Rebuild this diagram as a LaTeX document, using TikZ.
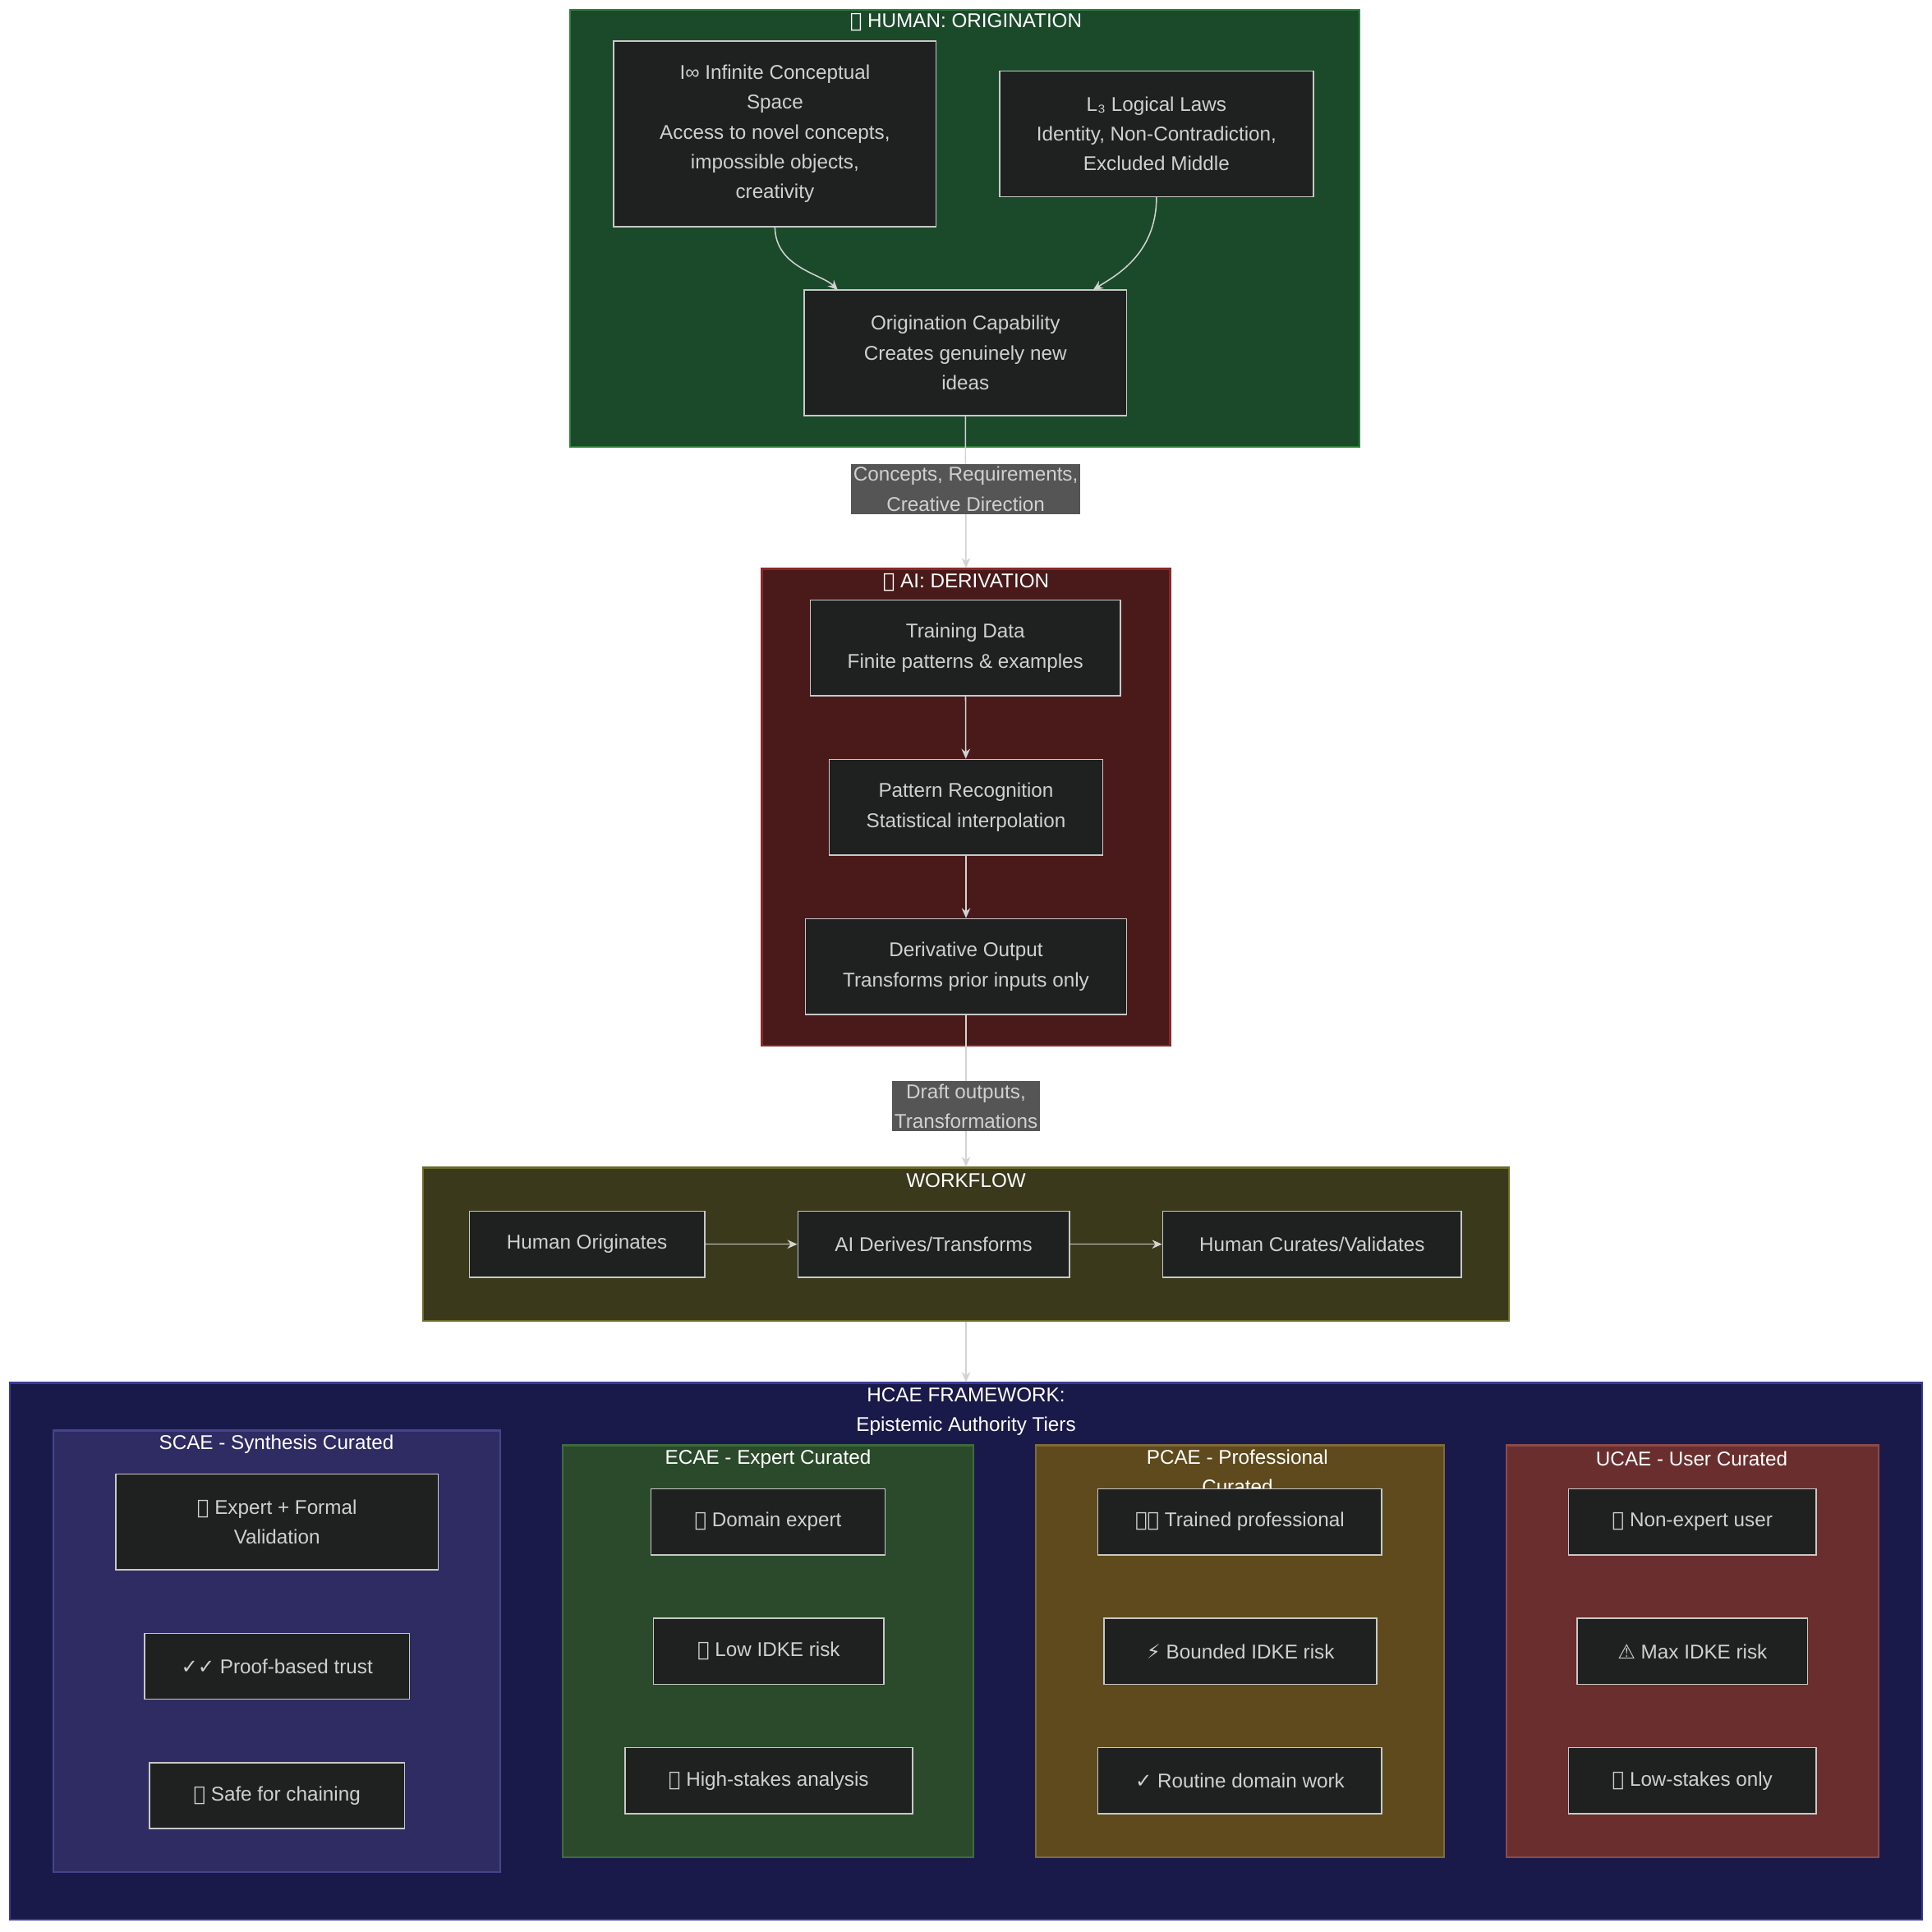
\documentclass[tikz,border=0pt]{standalone}
\usepackage{fontspec}
\setmainfont{Liberation Sans}
\newfontfamily\sym{DejaVu Sans}
\usetikzlibrary{arrows.meta}
\definecolor{ntxt}{HTML}{D0D0D0}
\definecolor{nfill}{HTML}{1F2020}
\definecolor{nline}{HTML}{C8C8C8}
\definecolor{hbg}{HTML}{1B4A2B}\definecolor{hbd}{HTML}{2E7D3A}
\definecolor{abg}{HTML}{4A1A1A}\definecolor{abd}{HTML}{8B2828}
\definecolor{wbg}{HTML}{3A391C}\definecolor{wbd}{HTML}{6B6B2A}
\definecolor{fbg}{HTML}{1A1A4A}\definecolor{fbd}{HTML}{3A3A9A}
\definecolor{sbg}{HTML}{2E2C63}\definecolor{sbd}{HTML}{45448A}
\definecolor{ebg}{HTML}{2B4A2B}\definecolor{ebd}{HTML}{3E6A3E}
\definecolor{pbg}{HTML}{5E4A1C}\definecolor{pbd}{HTML}{7E6A3A}
\definecolor{ubg}{HTML}{6B2E2E}\definecolor{ubd}{HTML}{8B4A4A}
\definecolor{lbl}{HTML}{555555}
\definecolor{edge}{HTML}{D3D3D3}
\newcommand\bx[6]{\node[#6, minimum width={(#4-#2)*0.5pt}, minimum height={(#5-#3)*0.5pt}] (#1) at ({(#2+#4)/2},{(#3+#5)/2})}
\tikzset{
 box/.style={draw=nline, fill=nfill, text=ntxt, align=center, inner sep=0pt, line width=0.5pt},
 clus/.style={draw=#1, line width=0.8pt, inner sep=0pt},
 ttl/.style={text=white, align=center, inner sep=0pt},
 lab/.style={fill=lbl, text=ntxt, align=center, inner sep=1pt},
 conn/.style={draw=edge, line width=0.5pt, -{Stealth[length=4pt,width=3.5pt]}},
}
\begin{document}
\begin{tikzpicture}[x=0.5pt,y=-0.5pt,font=\fontsize{8}{12}\selectfont]
\useasboundingbox (0,0) rectangle (1552,1552);
\fill[white] (0,0) rectangle (1552,1552);
% clusters
\bx{human}{458}{8}{1092}{359}{clus=hbd, fill=hbg}{};
\node[ttl] (humant) at (776,18) {{\sym 🧠} HUMAN: ORIGINATION};
\bx{ai}{612}{457}{940}{840}{clus=abd, fill=abg}{};
\node[ttl] (ait) at (776,468) {{\sym 🤖} AI: DERIVATION};
\bx{wf}{340}{938}{1212}{1061}{clus=wbd, fill=wbg}{};
\node[ttl] (wft) at (776,948) {WORKFLOW};
\bx{hc}{8}{1111}{1544}{1542}{clus=fbd, fill=fbg}{};
\node[ttl] (hct) at (776,1134) {HCAE FRAMEWORK:\\Epistemic Authority Tiers};
\bx{sc}{43}{1149}{402}{1504}{clus=sbd, fill=sbg}{};
\node[ttl] (sct) at (222,1160) {SCAE - Synthesis Curated};
\bx{ec}{452}{1161}{782}{1492}{clus=ebd, fill=ebg}{};
\node[ttl] (ect) at (617,1172) {ECAE - Expert Curated};
\bx{pc}{832}{1161}{1160}{1492}{clus=pbd, fill=pbg}{};
\node[ttl,anchor=north] (pct) at (994,1164) {PCAE - Professional\\Curated};
\bx{uc}{1210}{1161}{1509}{1492}{clus=ubd, fill=ubg}{};
\node[ttl] (uct) at (1359,1172) {UCAE - User Curated};
% human nodes
\bx{inf}{493}{33}{752}{182}{box}{I∞ Infinite Conceptual\\Space\\Access to novel concepts,\\impossible objects,\\creativity};
\bx{log}{803}{57}{1055}{158}{box}{L₃ Logical Laws\\Identity, Non-Contradiction,\\Excluded Middle};
\bx{orig}{646}{233}{905}{334}{box}{Origination Capability\\Creates genuinely new\\ideas};
% ai nodes
\bx{train}{651}{482}{900}{559}{box}{Training Data\\Finite patterns \& examples};
\bx{patt}{666}{610}{886}{687}{box}{Pattern Recognition\\Statistical interpolation};
\bx{deriv}{647}{738}{905}{815}{box}{Derivative Output\\Transforms prior inputs only};
% workflow
\bx{w1}{377}{973}{566}{1026}{box}{Human Originates};
\bx{w2}{641}{973}{859}{1026}{box}{AI Derives/Transforms};
\bx{w3}{934}{973}{1174}{1026}{box}{Human Curates/Validates};
% tiers
\bx{s1}{93}{1184}{352}{1261}{box}{{\sym 🔒} Expert + Formal\\Validation};
\bx{s2}{116}{1312}{329}{1365}{box}{{\sym ✓✓} Proof-based trust};
\bx{s3}{120}{1416}{325}{1469}{box}{{\sym 🔗} Safe for chaining};
\bx{e1}{523}{1196}{711}{1249}{box}{{\sym 🎓} Domain expert};
\bx{e2}{525}{1300}{710}{1353}{box}{{\sym ✅} Low IDKE risk};
\bx{e3}{502}{1404}{733}{1457}{box}{{\sym 🔬} High-stakes analysis};
\bx{p1}{882}{1196}{1110}{1249}{box}{{\sym 🧑‍💼} Trained professional};
\bx{p2}{887}{1300}{1106}{1353}{box}{{\sym ⚡} Bounded IDKE risk};
\bx{p3}{882}{1404}{1110}{1457}{box}{{\sym ✓} Routine domain work};
\bx{u1}{1260}{1196}{1459}{1249}{box}{{\sym 👤} Non-expert user};
\bx{u2}{1267}{1300}{1452}{1353}{box}{{\sym ⚠} Max IDKE risk};
\bx{u3}{1260}{1404}{1459}{1457}{box}{{\sym 📝} Low-stakes only};
% edges
\draw[conn] (inf.south) .. controls (623,215) and (660,220) .. (673,233);
\draw[conn] (log.south) .. controls (929,205) and (895,222) .. (878,233);
\draw[conn] (orig.south) -- (ai.north) node[lab, pos=0.48] (l1) {Concepts, Requirements,\\Creative Direction};
\draw[conn] (train) -- (patt);
\draw[conn] (patt) -- (deriv);
\draw[conn] (deriv.south) -- (wf.north) node[lab, pos=0.6] (l2) {Draft outputs,\\Transformations};
\draw[conn] (w1) -- (w2);
\draw[conn] (w2) -- (w3);
\draw[conn] (wf.south) -- (hc.north);
\end{tikzpicture}
\end{document}
